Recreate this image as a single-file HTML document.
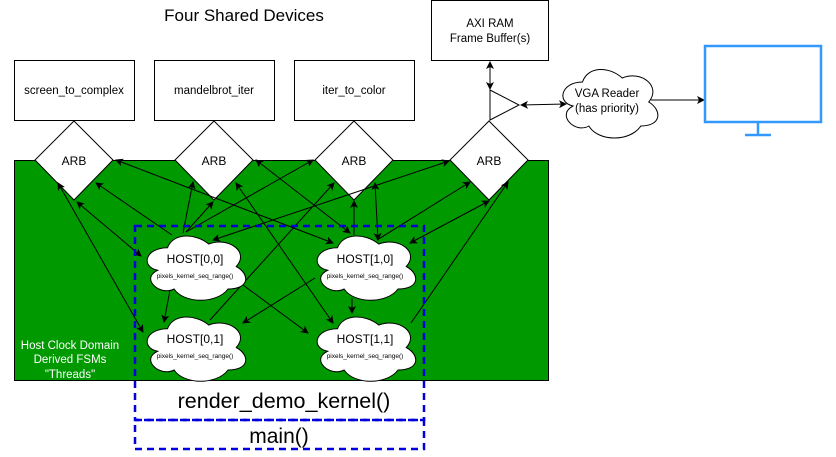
<!DOCTYPE html>
<html><head><style>
body{margin:0;background:#fff;}
svg text{font-family:"Liberation Sans",sans-serif;}
</style></head><body>
<svg width="836" height="452" viewBox="0 0 836 452" xmlns="http://www.w3.org/2000/svg">
<defs>
<marker id="a" markerWidth="8" markerHeight="8" refX="7" refY="4" orient="auto-start-reverse" markerUnits="userSpaceOnUse">
<path d="M0,0 L8,4 L0,8 L2,4 Z" fill="#000"/></marker>
<path id="cl" d="M0.25,0.25 C0.05,0.25 0,0.5 0.16,0.55 C0,0.66 0.18,0.9 0.31,0.8 C0.4,1 0.7,1 0.8,0.8 C1,0.8 1,0.6 0.875,0.5 C1,0.3 0.8,0.1 0.625,0.2 C0.5,0.05 0.3,0.05 0.25,0.25 Z" fill="#fff" stroke="#000" stroke-width="1" vector-effect="non-scaling-stroke"/>
</defs>
<text x="244" y="21" font-size="17" text-anchor="middle">Four Shared Devices</text>
<rect x="14.5" y="160.5" width="534" height="220" fill="#009900" stroke="#000"/>
<g fill="#fff" stroke="#000">
<rect x="14.5" y="60.5" width="120" height="60"/>
<rect x="154.5" y="60.5" width="120" height="60"/>
<rect x="294.5" y="60.5" width="120" height="60"/>
<rect x="431.5" y="0.5" width="117" height="60"/>
</g>
<g font-size="11.5" text-anchor="middle">
<text x="74" y="94">screen_to_complex</text>
<text x="214" y="94">mandelbrot_iter</text>
<text x="354" y="94">iter_to_color</text>
<text x="490" y="27">AXI RAM</text>
<text x="490" y="42">Frame Buffer(s)</text>
</g>
<g fill="#fff" stroke="#000">
<path d="M74,121 L113,160 L74,200 L35,160 Z"/>
<path d="M214,121 L253,160 L214,200 L175,160 Z"/>
<path d="M354,121 L393,160 L354,200 L315,160 Z"/>
<path d="M489,121 L528,160 L489,200 L450,160 Z"/>
<path d="M490,90 L519,105 L490,120 Z"/>
</g>
<g font-size="12" text-anchor="middle">
<text x="74" y="165">ARB</text><text x="214" y="165">ARB</text><text x="354" y="165">ARB</text><text x="489" y="165">ARB</text>
</g>
<g stroke="#000" fill="none" stroke-width="1">
<line x1="490" y1="62" x2="490" y2="89" marker-start="url(#a)" marker-end="url(#a)"/>
<line x1="521" y1="105" x2="566" y2="104" marker-start="url(#a)" marker-end="url(#a)"/>
<line x1="651" y1="100" x2="704" y2="100" marker-end="url(#a)"/>
<line x1="58" y1="183" x2="143" y2="332" marker-start="url(#a)" marker-end="url(#a)"/>
<line x1="77" y1="202" x2="141" y2="256" marker-start="url(#a)" marker-end="url(#a)"/>
<line x1="172" y1="235" x2="96" y2="183" marker-end="url(#a)"/>
<line x1="116" y1="160" x2="333" y2="243" marker-start="url(#a)" marker-end="url(#a)"/>
<line x1="183" y1="233" x2="193" y2="182" marker-end="url(#a)"/>
<line x1="186" y1="232" x2="213" y2="202" marker-end="url(#a)"/>
<line x1="256" y1="160" x2="350" y2="233" marker-start="url(#a)" marker-end="url(#a)"/>
<line x1="236" y1="183" x2="333" y2="323" marker-start="url(#a)" marker-end="url(#a)"/>
<line x1="186" y1="232" x2="313" y2="160" marker-end="url(#a)"/>
<line x1="210" y1="320" x2="334" y2="183" marker-end="url(#a)"/>
<line x1="354" y1="235" x2="354" y2="201" marker-end="url(#a)"/>
<line x1="375" y1="183" x2="378" y2="240" marker-start="url(#a)" marker-end="url(#a)"/>
<line x1="449" y1="161" x2="213" y2="240" marker-start="url(#a)" marker-end="url(#a)"/>
<line x1="377" y1="240" x2="470" y2="182" marker-end="url(#a)"/>
<line x1="410" y1="243" x2="489" y2="201" marker-start="url(#a)" marker-end="url(#a)"/>
<line x1="411" y1="323" x2="508" y2="182" marker-end="url(#a)"/>
<line x1="170" y1="290" x2="164" y2="322" marker-end="url(#a)"/>
<line x1="243" y1="285" x2="308" y2="333" marker-end="url(#a)"/>
<line x1="315" y1="278" x2="243" y2="323" marker-end="url(#a)"/>
<line x1="352" y1="298" x2="352" y2="313" marker-end="url(#a)"/>
</g>
<use href="#cl" transform="translate(140,229) scale(110,75)"/>
<use href="#cl" transform="translate(310,229) scale(110,75)"/>
<use href="#cl" transform="translate(140,310) scale(110,75)"/>
<use href="#cl" transform="translate(310,310) scale(110,75)"/>
<use href="#cl" transform="translate(556,62) scale(106,80)"/>
<g text-anchor="middle">
<text x="195" y="263" font-size="12">HOST[0,0]</text>
<text x="195" y="278" font-size="6.5">pixels_kernel_seq_range()</text>
<text x="365" y="263" font-size="12">HOST[1,0]</text>
<text x="365" y="278" font-size="6.5">pixels_kernel_seq_range()</text>
<text x="195" y="343" font-size="12">HOST[0,1]</text>
<text x="195" y="358" font-size="6.5">pixels_kernel_seq_range()</text>
<text x="365" y="343" font-size="12">HOST[1,1]</text>
<text x="365" y="358" font-size="6.5">pixels_kernel_seq_range()</text>
<text x="607" y="97" font-size="11.5">VGA Reader</text>
<text x="607" y="112" font-size="11.5">(has priority)</text>
<g fill="#fff" font-size="11.5">
<text x="70" y="349">Host Clock Domain</text>
<text x="70" y="363">Derived FSMs</text>
<text x="70" y="378">"Threads"</text>
</g>
<text x="284" y="408" font-size="21.5">render_demo_kernel()</text>
<text x="279" y="443" font-size="21">main()</text>
</g>
<g fill="none" stroke="#0000dd" stroke-width="2.5" stroke-dasharray="7,5">
<rect x="135" y="226" width="289" height="194"/>
<rect x="135" y="420" width="289" height="29"/>
</g>
<g stroke="#3399ff" stroke-width="2.5" fill="none">
<rect x="705" y="46" width="116" height="76"/>
<line x1="758" y1="122" x2="758" y2="135"/>
<line x1="745" y1="135" x2="771" y2="135"/>
</g>
</svg>
</body></html>
